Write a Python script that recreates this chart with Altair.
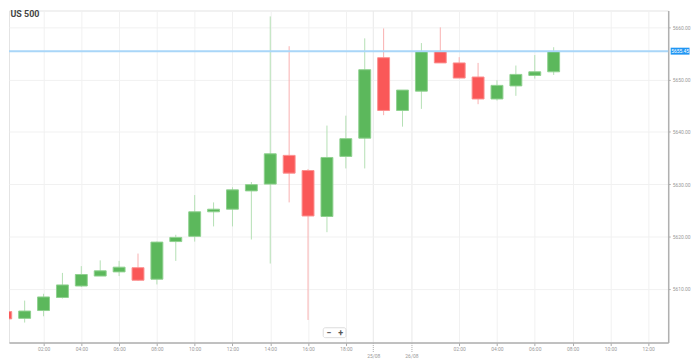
import altair as alt
import pandas as pd

# ---- data (hourly candles) ----
HOURS = list(range(30))
OPEN = [5605.6, 5604.3, 5605.8, 5608.3, 5610.5, 5612.4, 5613.2, 5614.0, 5611.8, 5619.0,
        5620.0, 5624.7, 5625.2, 5628.7, 5630.0, 5635.5, 5632.6, 5623.8, 5635.3, 5638.8,
        5654.2, 5644.1, 5647.8, 5655.4, 5653.2, 5650.5, 5646.3, 5648.8, 5650.8, 5651.5]
HIGH = [5605.8, 5607.7, 5609.0, 5613.0, 5614.3, 5615.4, 5615.3, 5616.7, 5619.0, 5620.3,
        5627.9, 5626.5, 5629.4, 5630.4, 5662.1, 5656.4, 5632.9, 5641.2, 5643.1, 5657.9,
        5659.8, 5648.0, 5657.0, 5660.0, 5654.3, 5653.2, 5649.9, 5652.7, 5654.7, 5656.2]
LOW = [5604.0, 5603.5, 5604.7, 5608.1, 5610.3, 5612.4, 5612.4, 5611.5, 5610.8, 5615.3,
       5619.0, 5621.9, 5621.9, 5619.4, 5614.8, 5626.5, 5604.0, 5620.8, 5633.0, 5633.0,
       5643.2, 5641.0, 5644.4, 5653.2, 5650.3, 5645.3, 5646.0, 5646.9, 5650.2, 5650.9]
CLOSE = [5604.2, 5605.7, 5608.4, 5610.7, 5612.7, 5613.4, 5614.1, 5611.6, 5618.9, 5619.8,
         5624.7, 5625.2, 5628.9, 5629.9, 5635.8, 5632.1, 5623.9, 5635.1, 5638.7, 5651.9,
         5644.1, 5648.0, 5655.4, 5653.2, 5650.3, 5646.3, 5648.9, 5651.0, 5651.5, 5655.4]

PRICE = 5655.45
PRICE_LABEL = "5655.45"
TITLE = "US 500"

TICK_POS = [2, 4, 6, 8, 10, 12, 14, 16, 18, 19.45, 21.47, 24, 26, 28, 30, 32, 34]
TICK_LABELS = ["02:00", "04:00", "06:00", "08:00", "10:00", "12:00", "14:00", "16:00",
               "18:00", "25/08", "26/08", "02:00", "04:00", "06:00", "08:00", "10:00", "12:00"]
DATE_POS = [19.45, 21.47]
Y_TICKS = [5610, 5620, 5630, 5640, 5650, 5660]

X_DOMAIN = [0.434, 34.8]
Y_DOMAIN = [5599.66, 5663.23]

W, H = 665, 335
GREEN, GREEN_EDGE, GREEN_WICK = "#5cb85c", "#8fd08f", "#b4e0b4"
RED, RED_EDGE, RED_WICK = "#fa5858", "#fb9090", "#f9b0b0"
FONT = "Roboto"

df = pd.DataFrame({"h": HOURS, "open": OPEN, "high": HIGH, "low": LOW, "close": CLOSE})
price_df = pd.DataFrame({"price": [PRICE], "label": [PRICE_LABEL]})
one = pd.DataFrame({"t": [TITLE]})

is_date = "indexof([" + ",".join(str(p) for p in DATE_POS) + "], datum.value) >= 0"
label_expr = ("[" + ",".join("'" + l + "'" for l in TICK_LABELS) + "][indexof(["
              + ",".join(str(p) for p in TICK_POS) + "], datum.value)]")

xs = alt.Scale(domain=X_DOMAIN, nice=False, zero=False)
ys = alt.Scale(domain=Y_DOMAIN, nice=False, zero=False)

X_AXIS = alt.Axis(
    title=None, values=TICK_POS, labelExpr=label_expr, labelOverlap=False, labelFlush=False,
    labelFont=FONT, labelFontSize=5, labelColor="#999",
    tickSize={"condition": {"test": is_date, "value": 9}, "value": 3},
    tickDash={"condition": {"test": is_date, "value": [1, 1]}, "value": []},
    tickColor="#aaa",
    labelPadding={"condition": {"test": is_date, "value": 2}, "value": 1},
    grid=True,
    gridColor={"condition": {"test": is_date, "value": "#e8e8e8"}, "value": "#f1f1f1"},
    gridWidth=1,
    domainColor="#b0b0b0", domainWidth=1.5,
)
Y_AXIS = alt.Axis(
    title=None, orient="right", values=Y_TICKS, format=".2f",
    labelFont=FONT, labelFontSize=5, labelColor="#999", labelPadding=2,
    tickSize=2, tickColor="#aaa", grid=True, gridColor="#f1f1f1",
    domainColor="#b0b0b0", domainWidth=1.5,
)

up = "datum.close >= datum.open"

wicks = alt.Chart(df).mark_rule(clip=True, strokeWidth=1).encode(
    x=alt.X("h:Q", scale=xs, axis=X_AXIS),
    y=alt.Y("low:Q", scale=ys, axis=Y_AXIS),
    y2="high:Q",
    color=alt.condition(up, alt.value(GREEN_WICK), alt.value(RED_WICK)),
)

bodies = alt.Chart(df).mark_bar(size=12, clip=True, strokeWidth=1).encode(
    x=alt.X("h:Q", scale=xs, axis=X_AXIS),
    y=alt.Y("open:Q", scale=ys, axis=Y_AXIS),
    y2="close:Q",
    fill=alt.condition(up, alt.value(GREEN), alt.value(RED)),
    stroke=alt.condition(up, alt.value(GREEN_EDGE), alt.value(RED_EDGE)),
)

price_line = alt.Chart(price_df).mark_rule(color="#a9d6f8", strokeWidth=2).encode(
    y=alt.Y("price:Q", scale=ys, axis=Y_AXIS),
)

price_tag = alt.Chart(price_df).mark_tick(color="#2196f3", size=19, thickness=7, opacity=1).encode(
    y=alt.Y("price:Q", scale=ys, axis=Y_AXIS),
    x=alt.value(W + 12),
)

price_text = alt.Chart(price_df).mark_text(
    color="white", font=FONT, fontSize=5, align="center", baseline="middle"
).encode(
    y=alt.Y("price:Q", scale=ys, axis=Y_AXIS),
    x=alt.value(W + 12),
    text="label:N",
)

title = alt.Chart(one).mark_text(
    font=FONT, fontSize=9, fontWeight="bold", color="#444", align="left", baseline="middle"
).encode(x=alt.value(1.5), y=alt.value(3.7), text="t:N")

btn = alt.Chart(one).mark_rect(fill="white", stroke="#dddddd", strokeWidth=1, cornerRadius=2).encode(
    x=alt.value(317), x2=alt.value(340), y=alt.value(320), y2=alt.value(330)
)
btn_minus = alt.Chart(one).mark_text(
    font=FONT, fontSize=9, fontWeight="bold", color="#555", align="center", baseline="middle"
).encode(x=alt.value(322.5), y=alt.value(325), text=alt.value("−"))
btn_plus = alt.Chart(one).mark_text(
    font=FONT, fontSize=9, fontWeight="bold", color="#555", align="center", baseline="middle"
).encode(x=alt.value(334.5), y=alt.value(325), text=alt.value("+"))

chart = alt.layer(
    wicks, bodies, price_line, price_tag, price_text, title, btn, btn_minus, btn_plus
).properties(width=W, height=H, padding=0, background="white").configure_view(
    stroke="#e4e4e4"
)

chart.save("out.html", embed_options={"renderer": "svg", "actions": False})
